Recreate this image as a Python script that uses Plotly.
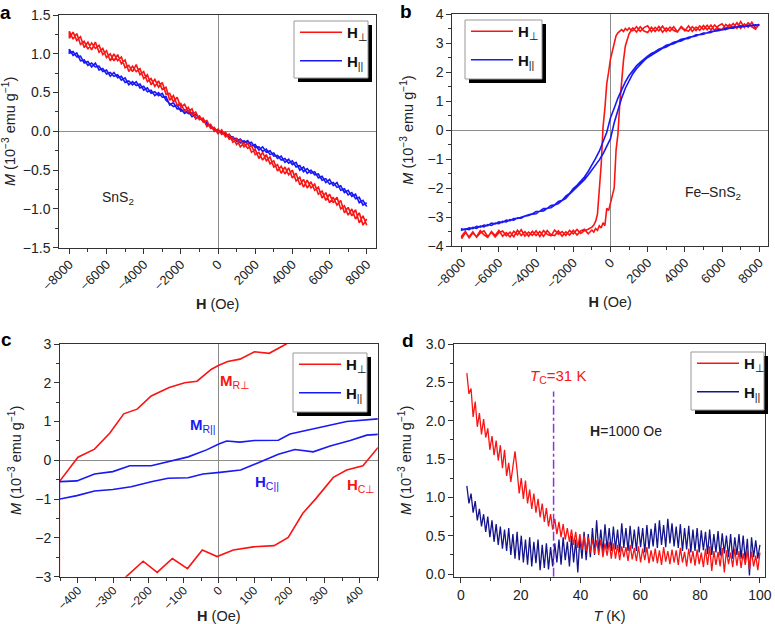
import plotly.graph_objects as go

FIG_W, FIG_H = 775, 624

# ---------------- data ----------------
# panel a : SnS2, field sweep
H_A = list(range(-8000, 8001, 200))
M_A_PERP_UP = [1.29, 1.19, 1.26, 1.12, 1.16, 1.06, 1.14, 1.07, 1.11, 0.99,
               1.04, 0.91, 1.00, 0.91, 0.96, 0.82, 0.85, 0.77, 0.86, 0.73,
               0.77, 0.64, 0.68, 0.58, 0.65, 0.54, 0.57, 0.40, 0.46, 0.34,
               0.36, 0.26, 0.31, 0.21, 0.25, 0.15, 0.17, 0.06, 0.09, 0.00,
               0.03, -0.04, -0.01, -0.10, -0.08, -0.17, -0.11, -0.20, -0.15, -0.27,
               -0.23, -0.35, -0.27, -0.38, -0.33, -0.46, -0.43, -0.54, -0.46, -0.56,
               -0.50, -0.64, -0.59, -0.72, -0.63, -0.73, -0.68, -0.81, -0.77, -0.89,
               -0.81, -0.92, -0.85, -1.00, -0.96, -1.08, -1.00, -1.13, -1.05, -1.21,
               -1.13]
M_A_PERP_DN = [1.20, 1.28, 1.17, 1.22, 1.08, 1.15, 1.05, 1.15, 1.02, 1.07,
               0.95, 1.00, 0.91, 0.99, 0.87, 0.92, 0.77, 0.84, 0.77, 0.81,
               0.68, 0.73, 0.60, 0.67, 0.57, 0.63, 0.48, 0.49, 0.38, 0.44,
               0.31, 0.35, 0.25, 0.29, 0.16, 0.20, 0.12, 0.14, 0.04, 0.05,
               -0.03, 0.02, -0.07, -0.04, -0.14, -0.10, -0.20, -0.15, -0.22, -0.18,
               -0.30, -0.27, -0.37, -0.30, -0.42, -0.38, -0.51, -0.45, -0.55, -0.47,
               -0.60, -0.54, -0.69, -0.62, -0.73, -0.65, -0.76, -0.72, -0.86, -0.79,
               -0.92, -0.85, -0.95, -0.89, -1.05, -0.98, -1.09, -1.01, -1.18, -1.09,
               -1.21]
M_A_PAR_UP = [1.06, 0.98, 1.01, 0.91, 0.92, 0.85, 0.88, 0.83, 0.84, 0.77,
              0.79, 0.71, 0.76, 0.69, 0.71, 0.63, 0.65, 0.60, 0.64, 0.56,
              0.58, 0.51, 0.53, 0.46, 0.50, 0.44, 0.45, 0.34, 0.37, 0.29,
              0.29, 0.23, 0.26, 0.19, 0.22, 0.16, 0.16, 0.08, 0.08, 0.01,
              0.02, -0.03, -0.02, -0.08, -0.07, -0.13, -0.10, -0.15, -0.12, -0.19,
              -0.17, -0.24, -0.20, -0.27, -0.25, -0.32, -0.31, -0.37, -0.35, -0.41,
              -0.38, -0.46, -0.44, -0.52, -0.48, -0.54, -0.52, -0.60, -0.58, -0.66,
              -0.62, -0.70, -0.66, -0.76, -0.74, -0.82, -0.79, -0.87, -0.85, -0.95,
              -0.92]
M_A_PAR_DN = [1.01, 1.03, 0.96, 0.97, 0.88, 0.90, 0.83, 0.88, 0.79, 0.81,
              0.74, 0.76, 0.71, 0.73, 0.66, 0.69, 0.60, 0.64, 0.59, 0.61,
              0.53, 0.56, 0.49, 0.51, 0.46, 0.49, 0.40, 0.36, 0.32, 0.34,
              0.26, 0.28, 0.23, 0.24, 0.17, 0.19, 0.13, 0.12, 0.05, 0.04,
              -0.02, 0.00, -0.05, -0.04, -0.10, -0.09, -0.15, -0.12, -0.16, -0.14,
              -0.21, -0.20, -0.26, -0.23, -0.30, -0.28, -0.35, -0.32, -0.40, -0.36,
              -0.43, -0.40, -0.50, -0.46, -0.54, -0.50, -0.56, -0.55, -0.63, -0.61,
              -0.68, -0.66, -0.72, -0.70, -0.79, -0.76, -0.84, -0.81, -0.92, -0.89,
              -0.97]

# panel b : Fe-SnS2, field sweep
H_B_PERP = list(range(-8000, -1199, 200)) + list(range(-1100, 1101, 100)) + list(range(1200, 8001, 200))
M_B_PERP_DN = [-3.66, -3.50, -3.72, -3.55, -3.68, -3.47, -3.62, -3.70, -3.50, -3.64,
               -3.46, -3.66, -3.54, -3.69, -3.49, -3.61, -3.44, -3.66, -3.52, -3.63,
               -3.48, -3.67, -3.47, -3.60, -3.65, -3.45, -3.59, -3.50, -3.64, -3.46,
               -3.58, -3.43, -3.57, -3.47, -3.42,
               -3.40, -3.35, -3.28, -3.15, -2.90, -2.20, -1.20, 0.10, 0.75, 1.60,
               2.00, 2.45, 2.80, 3.00, 3.25, 3.35, 3.42, 3.46, 3.40, 3.50,
               3.44, 3.52, 3.45,
               3.52, 3.38, 3.56, 3.41, 3.36, 3.54, 3.40, 3.57, 3.37, 3.52,
               3.41, 3.56, 3.39, 3.54, 3.42, 3.59, 3.40, 3.55, 3.44, 3.60,
               3.46, 3.62, 3.43, 3.59, 3.66, 3.48, 3.64, 3.52, 3.70, 3.50,
               3.66, 3.54, 3.72, 3.51, 3.63]
M_B_PERP_UP = [-3.74, -3.54, -3.68, -3.51, -3.70, -3.55, -3.48, -3.67, -3.53, -3.69,
               -3.54, -3.48, -3.65, -3.52, -3.68, -3.46, -3.64, -3.51, -3.66, -3.49,
               -3.64, -3.50, -3.67, -3.47, -3.61, -3.64, -3.48, -3.66, -3.51, -3.62,
               -3.46, -3.62, -3.48, -3.42, -3.58,
               -3.50, -3.45, -3.52, -3.40, -3.46, -3.30, -3.38, -3.20, -3.30, -2.70,
               -2.78, -2.48, -2.23, -2.00, -0.70, -0.15, 0.90, 1.80, 2.40, 2.90,
               3.15, 3.32, 3.42,
               3.42, 3.56, 3.40, 3.53, 3.59, 3.39, 3.54, 3.42, 3.58, 3.40,
               3.55, 3.43, 3.38, 3.57, 3.45, 3.41, 3.56, 3.43, 3.59, 3.46,
               3.61, 3.45, 3.62, 3.49, 3.46, 3.64, 3.53, 3.67, 3.51, 3.74,
               3.53, 3.70, 3.56, 3.48, 3.66]
H_B_PAR = list(range(-8000, 8001, 200))
M_B_PAR_DN = [-3.41, -3.44, -3.37, -3.40, -3.32, -3.35, -3.28, -3.30, -3.21, -3.24,
              -3.17, -3.19, -3.11, -3.13, -3.05, -3.05, -3.00, -2.97, -2.92, -2.89,
              -2.81, -2.80, -2.71, -2.70, -2.60, -2.58, -2.46, -2.42, -2.28, -2.19,
              -2.02, -1.91, -1.77, -1.62, -1.43, -1.22, -0.98, -0.73, -0.42, -0.08,
              0.42, 0.75, 1.10, 1.40, 1.66, 1.88, 2.06, 2.21, 2.33, 2.45,
              2.55, 2.64, 2.70, 2.79, 2.84, 2.92, 2.96, 3.03, 3.06, 3.13,
              3.15, 3.20, 3.22, 3.28, 3.29, 3.34, 3.35, 3.40, 3.41, 3.46,
              3.46, 3.51, 3.51, 3.55, 3.55, 3.59, 3.58, 3.61, 3.60, 3.63,
              3.61]
M_B_PAR_UP = [-3.45, -3.41, -3.44, -3.36, -3.39, -3.31, -3.34, -3.26, -3.29, -3.21,
              -3.23, -3.15, -3.17, -3.09, -3.11, -3.03, -3.04, -2.97, -2.95, -2.90,
              -2.89, -2.80, -2.79, -2.70, -2.68, -2.59, -2.54, -2.43, -2.36, -2.21,
              -2.09, -1.96, -1.84, -1.71, -1.55, -1.38, -1.20, -1.03, -0.82, -0.58,
              -0.30, 0.25, 0.70, 1.10, 1.44, 1.72, 1.94, 2.11, 2.27, 2.39,
              2.50, 2.58, 2.68, 2.73, 2.82, 2.86, 2.94, 2.97, 3.04, 3.07,
              3.14, 3.16, 3.22, 3.24, 3.29, 3.30, 3.35, 3.36, 3.41, 3.42,
              3.46, 3.47, 3.51, 3.51, 3.55, 3.55, 3.58, 3.58, 3.61, 3.60,
              3.63]

# panel c : low-field detail of the Fe-SnS2 loops
H_C_PERP_DN = [-453, -400, -353, -310, -270, -232, -192, -141, -97, -62, -21, 0, 25, 60, 101, 143, 191, 230]
M_C_PERP_DN = [-0.55, 0.08, 0.29, 0.70, 1.20, 1.32, 1.66, 1.88, 2.00, 2.04, 2.35, 2.45, 2.55, 2.61, 2.80, 2.76, 3.00, 3.30]
H_C_PERP_UP = [-453, -400, -350, -305, -263, -215, -175, -132, -89, -47, -5, 41, 98, 157, 197, 238, 276, 325, 363, 409, 452]
M_C_PERP_UP = [-3.05, -3.35, -3.45, -3.30, -3.00, -2.60, -2.89, -2.53, -2.79, -2.31, -2.48, -2.31, -2.23, -2.20, -1.99, -1.37, -0.98, -0.44, -0.25, -0.14, 0.33]
H_C_PAR_DN = [-453, -403, -353, -301, -253, -192, -139, -87, -35, 0, 22, 60, 101, 169, 202, 276, 363, 452]
M_C_PAR_DN = [-0.55, -0.53, -0.35, -0.29, -0.14, -0.14, -0.03, 0.09, 0.27, 0.42, 0.50, 0.47, 0.51, 0.52, 0.68, 0.83, 1.00, 1.07]
H_C_PAR_UP = [-453, -403, -353, -301, -249, -192, -144, -87, -45, 3, 62, 107, 169, 216, 268, 316, 373, 420, 452]
M_C_PAR_UP = [-1.00, -0.91, -0.79, -0.75, -0.68, -0.55, -0.46, -0.45, -0.35, -0.31, -0.25, -0.08, 0.16, 0.28, 0.22, 0.37, 0.51, 0.65, 0.67]

# panel d : temperature dependence at H = 1000 Oe
T_D = [round(2 + 0.7 * i, 1) for i in range(141)]
M_D_PERP = [2.62, 2.35, 2.42, 2.05, 2.25, 1.92, 2.10, 1.82, 2.02, 1.78,
            1.90, 1.62, 1.80, 1.55, 1.74, 1.48, 1.68, 1.38, 1.62, 1.28,
            1.45, 1.20, 1.40, 1.60, 1.35, 1.05, 1.25, 0.98, 1.22, 0.92,
            1.10, 0.85, 1.05, 0.80, 0.98, 0.74, 0.92, 0.68, 0.86, 0.62,
            0.78, 0.58, 0.72, 0.52, 0.68, 0.48, 0.65, 0.45, 0.60, 0.42,
            0.58, 0.38, 0.55, 0.34, 0.52, 0.32, 0.50, 0.30, 0.48, 0.28,
            0.46, 0.27, 0.44, 0.25, 0.45, 0.22, 0.40, 0.24, 0.42, 0.20,
            0.40, 0.20, 0.38, 0.18, 0.36, 0.22, 0.35, 0.17, 0.38, 0.19,
            0.34, 0.17, 0.36, 0.15, 0.33, 0.18, 0.35, 0.14, 0.31, 0.16,
            0.33, 0.14, 0.31, 0.12, 0.35, 0.16, 0.30, 0.13, 0.32, 0.15,
            0.31, 0.12, 0.34, 0.15, 0.29, 0.10, 0.33, 0.14, 0.30, 0.11,
            0.32, 0.13, 0.28, 0.09, 0.33, 0.12, 0.36, 0.04, 0.30, 0.12,
            0.29, 0.10, 0.34, 0.02, 0.31, 0.13, 0.28, 0.09, 0.33, 0.11,
            0.30, 0.08, 0.27, 0.12, 0.31, 0.06, 0.29, 0.10, 0.24, 0.05,
            0.28]
M_D_PAR = [1.15, 0.92, 1.05, 0.80, 0.95, 0.70, 0.85, 0.62, 0.78, 0.55,
           0.75, 0.48, 0.70, 0.42, 0.65, 0.38, 0.62, 0.33, 0.58, 0.30,
           0.60, 0.25, 0.52, 0.20, 0.55, 0.18, 0.50, 0.15, 0.45, 0.12,
           0.48, 0.10, 0.42, 0.14, 0.45, 0.05, 0.38, 0.08, 0.40, 0.06,
           0.35, 0.10, 0.40, 0.15, 0.45, 0.12, 0.48, 0.18, 0.42, 0.10,
           0.50, 0.15, 0.45, 0.02, 0.48, 0.20, 0.55, 0.18, 0.52, 0.22,
           0.60, 0.25, 0.70, 0.30, 0.58, 0.28, 0.65, 0.32, 0.60, 0.30,
           0.62, 0.32, 0.58, 0.28, 0.66, 0.34, 0.60, 0.30, 0.63, 0.33,
           0.58, 0.30, 0.62, 0.35, 0.60, 0.28, 0.64, 0.33, 0.59, 0.36,
           0.66, 0.34, 0.70, 0.38, 0.64, 0.35, 0.72, 0.40, 0.66, 0.36,
           0.62, 0.34, 0.65, 0.30, 0.60, 0.32, 0.63, 0.28, 0.58, 0.30,
           0.60, 0.28, 0.57, 0.31, 0.55, 0.26, 0.58, 0.25, 0.52, 0.28,
           0.56, 0.24, 0.53, 0.27, 0.50, 0.22, 0.52, 0.20, 0.48, 0.25,
           0.52, 0.20, 0.50, 0.18, 0.46, -0.02, 0.48, 0.22, 0.44, 0.20,
           0.38]
TC_K = 31
TC_LINE_TOP = 2.38

PERP_NAME = "<b>H</b><sub>⊥</sub>"
PAR_NAME = "<b>H</b><sub>||</sub>"

# ---------------- styling ----------------
RED = "rgb(250,20,20)"
BLUE = "rgb(25,25,245)"
NAVY = "rgb(20,20,140)"
AXC = "#333333"
FONT = "Liberation Sans, Arial, sans-serif"


def px(x, y):
    return x / FIG_W, 1 - y / FIG_H


def loop(h, dn, up):
    return list(h[::-1]) + list(h), list(dn[::-1]) + list(up)


fig = go.Figure()

# panel a (blue below red)
x, y = loop(H_A, M_A_PAR_DN, M_A_PAR_UP)
fig.add_trace(go.Scatter(x=x, y=y, mode="lines", line=dict(color=BLUE, width=1.6), name=PAR_NAME,
                         xaxis="x", yaxis="y", legend="legend", legendrank=2, legendgroup="a2"))
x, y = loop(H_A, M_A_PERP_DN, M_A_PERP_UP)
fig.add_trace(go.Scatter(x=x, y=y, mode="lines", line=dict(color=RED, width=1.6), name=PERP_NAME,
                         xaxis="x", yaxis="y", legend="legend", legendrank=1, legendgroup="a1"))
# panel b (blue over red)
x, y = loop(H_B_PERP, M_B_PERP_DN, M_B_PERP_UP)
fig.add_trace(go.Scatter(x=x, y=y, mode="lines", line=dict(color=RED, width=1.6), name=PERP_NAME,
                         xaxis="x2", yaxis="y2", legend="legend2", legendgroup="b1"))
x, y = loop(H_B_PAR, M_B_PAR_DN, M_B_PAR_UP)
fig.add_trace(go.Scatter(x=x, y=y, mode="lines", line=dict(color=BLUE, width=1.6), name=PAR_NAME,
                         xaxis="x2", yaxis="y2", legend="legend2", legendgroup="b2"))
# panel c
fig.add_trace(go.Scatter(x=H_C_PERP_DN[::-1] + H_C_PERP_UP, y=M_C_PERP_DN[::-1] + M_C_PERP_UP,
                         mode="lines", line=dict(color=RED, width=1.6), name=PERP_NAME,
                         xaxis="x3", yaxis="y3", legend="legend3", legendgroup="c1"))
fig.add_trace(go.Scatter(x=H_C_PAR_DN[::-1] + H_C_PAR_UP, y=M_C_PAR_DN[::-1] + M_C_PAR_UP,
                         mode="lines", line=dict(color=BLUE, width=1.6), name=PAR_NAME,
                         xaxis="x3", yaxis="y3", legend="legend3", legendgroup="c2"))
# panel d
fig.add_trace(go.Scatter(x=T_D, y=M_D_PAR, mode="lines", line=dict(color=NAVY, width=1.3), name=PAR_NAME,
                         xaxis="x4", yaxis="y4", legend="legend4", legendrank=2, legendgroup="d2"))
fig.add_trace(go.Scatter(x=T_D, y=M_D_PERP, mode="lines", line=dict(color=RED, width=1.3), name=PERP_NAME,
                         xaxis="x4", yaxis="y4", legend="legend4", legendrank=1, legendgroup="d1"))


def axis(dom, rng, dtick, mdtick, angle, title, anchor, zero, fmt=None, tsize=13, standoff=6, lstand=0):
    d = dict(domain=dom, range=rng, anchor=anchor, showline=True, linecolor=AXC, linewidth=1, mirror=True,
             ticks="outside", ticklen=5, tickwidth=1, tickcolor=AXC, tick0=0, dtick=dtick,
             minor=dict(ticks="outside", ticklen=3, dtick=mdtick, tick0=0, tickcolor=AXC),
             tickangle=angle, showgrid=False, zeroline=zero, zerolinecolor="#8c8c8c", zerolinewidth=1,
             tickfont=dict(family=FONT, size=tsize, color="#222"), ticklabelstandoff=lstand,
             title=dict(text=title, font=dict(family=FONT, size=14.5, color="#222"), standoff=standoff))
    if fmt:
        d["tickformat"] = fmt
    return d


def xdom(x0, x1):
    return [px(x0, 0)[0], px(x1, 0)[0]]


def ydom(top, bottom):
    return [px(0, bottom)[1], px(0, top)[1]]


YT = "<i>M</i> (10<sup>−3</sup> emu g<sup>−1</sup>)"
HT = "<b>H</b> (Oe)"

layout = dict(
    width=FIG_W, height=FIG_H, margin=dict(l=0, r=0, t=0, b=0, autoexpand=False),
    paper_bgcolor="white", plot_bgcolor="white",
    font=dict(family=FONT, color="#222"),
    xaxis=axis(xdom(59.3, 376), [-8540, 8500], 2000, 1000, -45, HT, "y", True, None, 13, 6, -2),
    yaxis=axis(ydom(15, 247.7), [-1.5, 1.5], 0.5, 0.25, 0, YT, "x", True, ".1f", 14, 10),
    xaxis2=axis(xdom(452.3, 768), [-8505, 8470], 2000, 1000, -45, HT, "y2", True, None, 13, 6, -2),
    yaxis2=axis(ydom(14, 246), [-4, 4], 1, 0.5, 0, YT, "x2", True, None, 14, 10),
    xaxis3=axis(xdom(60, 377.7), [-451, 451], 100, 50, -45, HT, "y3", True, None, 12, 4, -4),
    yaxis3=axis(ydom(344, 576.7), [-3, 3], 1, 0.5, 0, YT, "x3", True, None, 14, 10),
    xaxis4=axis(xdom(454, 765), [-2.3, 101.7], 20, 10, 0, "<i>T</i> (K)", "y4", False, None, 14, 14),
    yaxis4=axis(ydom(344, 576.7), [-0.035, 3.0], 0.5, 0.25, 0, YT, "x4", False, ".1f", 14, 10),
)

# legends with framed shadow boxes (page pixels)
LEG_BOXES = {"legend": (294, 21, 368, 78), "legend2": (465, 20, 542, 79),
             "legend3": (293, 353, 367, 412), "legend4": (691, 352, 764, 410)}
shapes = []
for key, (x0, y0, x1, y1) in LEG_BOXES.items():
    a0, b0 = px(x0 + 4, y0 + 4); a1, b1 = px(x1 + 4, y1 + 4)
    shapes.append(dict(type="rect", xref="paper", yref="paper", x0=a0, y0=b1, x1=a1, y1=b0,
                       fillcolor="black", line=dict(width=0), layer="above"))
    a0, b0 = px(x0, y0); a1, b1 = px(x1, y1)
    shapes.append(dict(type="rect", xref="paper", yref="paper", x0=a0, y0=b1, x1=a1, y1=b0,
                       fillcolor="white", line=dict(color="#999999", width=1), layer="above"))
    lx, ly = px(x0 + 1, y0 - 5)
    layout[key] = dict(x=lx, y=ly, xanchor="left", yanchor="top", bgcolor="rgba(0,0,0,0)", borderwidth=0,
                       font=dict(family=FONT, size=15, color="#111"), tracegroupgap=6, itemwidth=42)

# Tc marker line
shapes.append(dict(type="line", xref="x4", yref="y4", x0=TC_K, x1=TC_K, y0=-0.035, y1=TC_LINE_TOP,
                   line=dict(color="rgb(140,50,230)", width=1.5, dash="dashdot")))
layout["shapes"] = shapes

ann = []
for letter, (lx, ly) in {"a": (5, 12), "b": (406, 11), "c": (6, 339), "d": (408, 341)}.items():
    X, Y = px(lx, ly)
    ann.append(dict(text=f"<b>{letter}</b>", x=X, y=Y, xref="paper", yref="paper", showarrow=False,
                    xanchor="center", yanchor="middle", borderpad=0,
                    font=dict(family=FONT, size=19, color="black")))
ann += [
    dict(text="SnS<sub>2</sub>", x=-6350, y=-0.86, xref="x", yref="y", xanchor="left"),
    dict(text="Fe–SnS<sub>2</sub>", x=3900, y=-2.16, xref="x2", yref="y2", xanchor="left"),
    dict(text="<b>M</b><sub>R⊥</sub>", x=-2, y=2.03, xref="x3", yref="y3", xanchor="left",
         font=dict(family=FONT, size=15, color=RED)),
    dict(text="<b>M</b><sub>R||</sub>", x=-87, y=0.91, xref="x3", yref="y3", xanchor="left",
         font=dict(family=FONT, size=15, color=BLUE)),
    dict(text="<b>H</b><sub>C||</sub>", x=98, y=-0.58, xref="x3", yref="y3", xanchor="left",
         font=dict(family=FONT, size=15, color=BLUE)),
    dict(text="<b>H</b><sub>C⊥</sub>", x=359, y=-0.66, xref="x3", yref="y3", xanchor="left",
         font=dict(family=FONT, size=15, color=RED)),
    dict(text="<i>T</i><sub>C</sub>=31 K", x=22.5, y=2.57, xref="x4", yref="y4", xanchor="left",
         font=dict(family=FONT, size=15, color=RED)),
    dict(text="<b>H</b>=1000 Oe", x=42.6, y=1.86, xref="x4", yref="y4", xanchor="left"),
]
for a in ann:
    a.setdefault("showarrow", False)
    a.setdefault("yanchor", "middle")
    a.setdefault("font", dict(family=FONT, size=14, color="#222"))
layout["annotations"] = ann

fig.update_layout(**layout)
fig.write_html("out.html", config={"displayModeBar": False},
               post_script="document.body.style.margin='0px';document.body.style.padding='0px';")
